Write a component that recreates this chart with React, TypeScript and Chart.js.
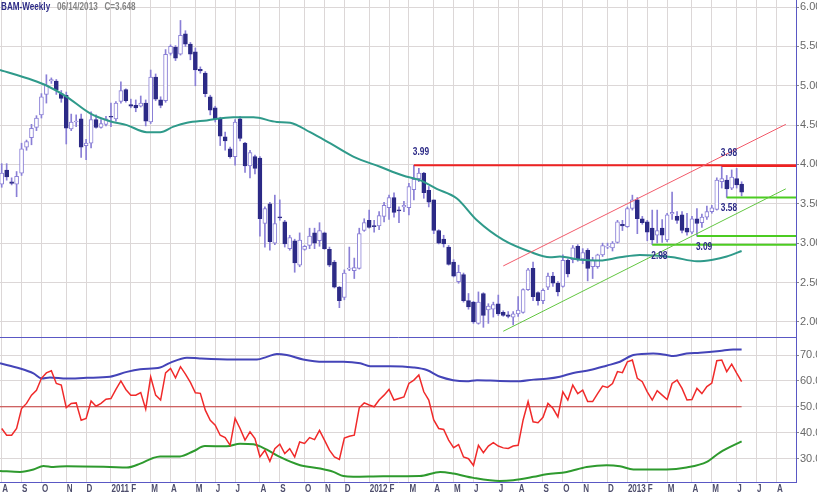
import React, { useEffect, useRef } from "react";
import { Chart, registerables } from "chart.js";

Chart.register(...registerables);

// ---------- DATA ----------
const titleSymbol = "BAM-Weekly";
const titleDate = "06/14/2013";
const lastCloseText = "3.648";

// weekly candles, index 0 = week of Aug 6 2010 ... index 149 = week of Jun 14 2013
const opens = [
  3.75, 3.93, 3.78, 3.75, 3.89, 4.22, 4.34, 4.47, 4.63, 4.89,
  5.06, 5.06, 4.90, 4.88, 4.45, 4.54, 4.58, 4.24, 4.27, 4.57,
  4.47, 4.51, 4.61, 4.58, 4.80, 4.95, 4.76, 4.75, 4.74, 4.78,
  4.54, 5.11, 4.82, 4.81, 5.41, 5.49, 5.40, 5.66, 5.53, 5.43,
  5.21, 5.16, 4.86, 4.72, 4.58, 4.35, 4.20, 4.10, 4.58, 4.27,
  3.98, 4.10, 4.08, 3.25, 3.50, 3.00, 3.33, 3.27, 2.93, 3.03,
  2.72, 2.92, 2.97, 3.13, 3.03, 3.13, 2.92, 2.76, 2.44, 2.31,
  2.67, 2.65, 2.68, 3.16, 3.29, 3.22, 3.22, 3.34, 3.45, 3.58,
  3.42, 3.46, 3.45, 3.68, 3.82, 3.89, 3.67, 3.55, 3.16, 3.05,
  2.95, 2.76, 2.51, 2.60, 2.27, 2.25, 1.98, 2.36, 2.15, 2.16,
  2.23, 2.12, 2.09, 2.06, 2.10, 2.12, 2.41, 2.68, 2.37, 2.27,
  2.44, 2.58, 2.49, 2.45, 2.78, 2.79, 2.96, 2.80, 2.91, 2.70,
  2.70, 2.85, 2.95, 2.94, 3.01, 3.24, 3.21, 3.44, 3.55, 3.31,
  3.27, 3.19, 3.10, 3.19, 3.04, 3.37, 3.34, 3.36, 3.19, 3.14,
  3.31, 3.26, 3.33, 3.40, 3.43, 3.78, 3.80, 3.70, 3.82, 3.75,
];
const highs = [
  4.01, 4.01, 3.83, 3.91, 4.27, 4.31, 4.51, 4.62, 4.90, 5.14,
  5.10, 5.08, 4.94, 4.92, 4.64, 4.63, 4.64, 4.32, 4.67, 4.63,
  4.57, 4.61, 4.78, 4.80, 5.05, 4.96, 4.83, 4.82, 4.87, 4.82,
  5.20, 5.15, 4.86, 5.46, 5.52, 5.51, 5.83, 5.70, 5.55, 5.48,
  5.24, 5.18, 4.88, 4.74, 4.60, 4.41, 4.22, 4.57, 4.61, 4.28,
  4.18, 4.12, 4.10, 3.46, 3.52, 3.61, 3.55, 3.29, 3.10, 3.05,
  3.13, 2.97, 3.19, 3.19, 3.26, 3.14, 2.95, 2.78, 2.45, 2.66,
  2.95, 2.81, 3.19, 3.31, 3.42, 3.29, 3.40, 3.52, 3.61, 3.64,
  3.46, 3.53, 3.76, 3.99, 3.95, 3.90, 3.72, 3.55, 3.17, 3.10,
  2.97, 2.79, 2.72, 2.62, 2.36, 2.26, 2.38, 2.37, 2.23, 2.25,
  2.34, 2.14, 2.13, 2.13, 2.32, 2.42, 2.68, 2.76, 2.38, 2.42,
  2.62, 2.63, 2.51, 2.85, 2.80, 2.97, 2.98, 2.93, 2.93, 2.82,
  2.86, 3.00, 3.00, 3.02, 3.29, 3.29, 3.46, 3.61, 3.58, 3.34,
  3.29, 3.42, 3.42, 3.30, 3.38, 3.65, 3.40, 3.40, 3.38, 3.34,
  3.44, 3.37, 3.47, 3.48, 3.83, 3.98, 3.86, 3.93, 3.95, 3.78,
];
const lows = [
  3.71, 3.80, 3.74, 3.59, 3.86, 4.18, 4.25, 4.43, 4.59, 4.78,
  5.03, 4.89, 4.79, 4.26, 4.43, 4.48, 4.09, 4.06, 4.21, 4.46,
  4.46, 4.49, 4.48, 4.55, 4.78, 4.79, 4.72, 4.67, 4.73, 4.49,
  4.52, 4.81, 4.72, 4.79, 5.39, 5.32, 5.39, 5.50, 5.33, 5.00,
  5.16, 4.86, 4.63, 4.54, 4.24, 4.18, 4.08, 3.99, 4.30, 3.90,
  3.83, 3.88, 3.09, 2.95, 2.91, 2.98, 3.29, 2.95, 2.91, 2.63,
  2.70, 2.91, 2.93, 2.93, 2.96, 2.92, 2.70, 2.43, 2.18, 2.28,
  2.65, 2.55, 2.67, 3.15, 3.19, 3.14, 3.17, 3.27, 3.30, 3.33,
  3.26, 3.40, 3.36, 3.55, 3.78, 3.57, 3.46, 3.12, 2.99, 2.95,
  2.72, 2.57, 2.49, 2.25, 2.16, 1.98, 1.97, 1.93, 1.98, 2.06,
  2.08, 2.07, 2.05, 1.96, 2.07, 2.11, 2.40, 2.27, 2.21, 2.23,
  2.41, 2.45, 2.33, 2.44, 2.57, 2.75, 2.77, 2.74, 2.52, 2.55,
  2.68, 2.83, 2.93, 2.90, 3.00, 3.16, 3.20, 3.42, 3.12, 3.24,
  3.03, 2.98, 3.00, 3.01, 3.02, 3.30, 3.25, 3.13, 3.10, 3.12,
  3.09, 3.20, 3.30, 3.38, 3.42, 3.70, 3.58, 3.68, 3.70, 3.60,
];
const closes = [
  3.89, 3.84, 3.76, 3.85, 4.20, 4.29, 4.46, 4.59, 4.86, 5.01,
  5.08, 4.95, 4.84, 4.46, 4.54, 4.55, 4.22, 4.27, 4.57, 4.47,
  4.52, 4.58, 4.60, 4.78, 4.94, 4.81, 4.74, 4.72, 4.78, 4.55,
  5.11, 4.83, 4.75, 5.40, 5.50, 5.35, 5.64, 5.53, 5.40, 5.20,
  5.19, 4.90, 4.69, 4.58, 4.36, 4.30, 4.10, 4.54, 4.33, 3.98,
  4.15, 3.95, 3.31, 3.44, 3.02, 3.25, 3.32, 2.99, 3.07, 2.75,
  3.04, 2.96, 3.09, 3.00, 3.16, 2.93, 2.72, 2.44, 2.27, 2.62,
  2.68, 2.69, 3.12, 3.26, 3.20, 3.21, 3.35, 3.48, 3.58, 3.39,
  3.41, 3.48, 3.72, 3.81, 3.89, 3.64, 3.52, 3.16, 3.00, 2.99,
  2.73, 2.58, 2.63, 2.27, 2.19, 2.00, 2.25, 2.08, 2.20, 2.22,
  2.10, 2.08, 2.07, 2.10, 2.15, 2.41, 2.66, 2.32, 2.27, 2.40,
  2.58, 2.49, 2.38, 2.78, 2.61, 2.94, 2.79, 2.88, 2.68, 2.78,
  2.85, 2.97, 2.96, 3.00, 3.27, 3.22, 3.44, 3.55, 3.31, 3.26,
  3.14, 3.04, 3.16, 3.10, 3.36, 3.39, 3.29, 3.16, 3.14, 3.31,
  3.25, 3.33, 3.40, 3.45, 3.80, 3.82, 3.69, 3.84, 3.74, 3.648,
];

// moving average (week index, price)
const maIdx = [-0.34, 6.3, 9.1, 13.1, 17.8, 21.8, 25.2, 29.2, 31.9, 34.6, 37.3, 41.3, 46.6, 50.7, 55.4, 58.1, 62.1, 66.1, 70.8, 76.2, 80.8, 84.2, 87.6, 91.6, 95.7, 101.0, 106.4, 110.4, 112.4, 116.5, 120.5, 124.5, 128.5, 135.2, 140.0, 143.2, 146.0, 149.0];
const maVal = [5.20, 5.07, 5.00, 4.86, 4.65, 4.55, 4.50, 4.41, 4.41, 4.48, 4.53, 4.56, 4.60, 4.60, 4.54, 4.53, 4.41, 4.27, 4.10, 3.97, 3.86, 3.80, 3.69, 3.57, 3.29, 3.04, 2.89, 2.82, 2.83, 2.79, 2.78, 2.82, 2.85, 2.82, 2.77, 2.79, 2.83, 2.90];

// lower panel oscillator
const oscValues = [
  41.6, 39.0, 39.0, 41.6, 49.3, 51.3, 54.5, 56.4, 61.0, 63.1,
  63.9, 59.0, 58.4, 49.7, 51.3, 51.5, 44.8, 45.5, 52.2, 50.2,
  51.3, 52.9, 53.2, 56.7, 60.0, 56.7, 54.5, 54.5, 55.5, 49.1,
  61.6, 54.5, 52.6, 63.1, 64.8, 61.2, 65.5, 62.6, 59.4, 55.4,
  55.2, 48.7, 44.8, 42.9, 39.0, 38.1, 35.1, 45.5, 41.6, 37.1,
  40.3, 37.7, 30.6, 33.2, 28.9, 33.8, 35.5, 31.9, 33.8, 30.6,
  36.4, 35.8, 38.1, 37.3, 40.9, 37.1, 33.2, 30.6, 29.6, 37.9,
  38.6, 39.0, 49.6, 51.5, 50.7, 50.0, 52.6, 54.5, 56.7, 52.6,
  53.2, 53.8, 59.0, 60.3, 62.3, 55.8, 52.6, 44.9, 41.6, 41.2,
  37.1, 34.2, 35.4, 30.6, 29.9, 27.3, 35.1, 32.2, 34.8, 36.1,
  34.8, 34.1, 33.9, 34.8, 35.1, 44.9, 52.0, 44.2, 43.8, 45.9,
  51.3, 49.4, 46.1, 55.8, 52.6, 58.4, 55.1, 56.4, 52.0, 52.0,
  55.1, 58.0, 57.5, 59.0, 63.6, 63.2, 67.4, 68.1, 61.0, 59.7,
  55.8, 52.6, 56.2, 54.5, 52.8, 59.0, 60.3, 57.1, 52.6, 52.8,
  57.1, 55.1, 57.8, 59.2, 67.8, 68.1, 63.6, 66.5, 63.0, 59.7,
];
const upperIdx = [-0.34, 3.7, 6.4, 8.1, 9.7, 13.1, 17.1, 21.8, 25.2, 27.9, 31.9, 33.9, 37.3, 39.9, 46.6, 51.4, 53.4, 55.4, 57.4, 60.7, 64.8, 68.8, 72.2, 74.2, 78.2, 82.9, 85.6, 88.3, 90.9, 93.6, 95.7, 100.3, 104.4, 107.1, 109.7, 112.4, 115.1, 118.5, 121.8, 124.5, 127.2, 131.2, 133.9, 135.2, 137.9, 140.6, 144.6, 147.3, 149.0];
const upperVal = [66.8, 64.8, 62.9, 60.9, 61.3, 60.9, 61.2, 61.6, 63.5, 64.5, 65.2, 67.0, 69.0, 68.7, 68.3, 68.3, 69.3, 70.4, 70.0, 68.3, 67.4, 67.4, 66.8, 65.7, 65.7, 65.2, 64.2, 61.6, 60.3, 59.9, 60.3, 60.0, 59.9, 60.5, 60.8, 61.6, 63.1, 64.2, 65.9, 67.4, 70.0, 70.6, 70.0, 69.6, 70.6, 70.9, 71.6, 72.2, 72.2];
const lowerIdx = [-0.34, 3.7, 6.4, 8.4, 10.4, 13.1, 21.8, 25.2, 27.9, 30.5, 31.9, 35.9, 38.6, 40.9, 45.3, 48.0, 50.7, 53.4, 56.0, 60.1, 64.1, 66.8, 68.8, 70.8, 76.8, 84.2, 88.3, 90.9, 95.0, 100.3, 103.0, 107.1, 109.7, 113.8, 117.8, 121.8, 124.5, 127.2, 133.9, 137.9, 142.0, 144.6, 149.0];
const lowerVal = [25.2, 24.8, 25.7, 27.1, 26.7, 27.0, 26.7, 26.5, 28.0, 30.2, 30.8, 30.8, 32.8, 34.8, 34.7, 35.7, 35.5, 33.4, 30.6, 27.4, 26.1, 24.8, 23.2, 22.9, 23.1, 23.2, 24.8, 24.2, 22.5, 21.3, 21.6, 22.9, 23.9, 24.8, 26.7, 27.4, 27.0, 25.7, 25.7, 26.5, 28.7, 32.3, 36.6];
const midLevel = 50;

// month grid: first weekly bar of each month, with its label
const monthIdx = [0, 4, 8, 13, 17, 22, 26, 30, 34, 39, 43, 47, 52, 56, 61, 65, 69, 74, 78, 82, 87, 91, 95, 100, 104, 109, 113, 117, 122, 126, 130, 134, 139, 143, 148, 152, 156];
const monthLabels = ["A", "S", "O", "N", "D", "2011", "F", "M", "A", "M", "J", "J", "A", "S", "O", "N", "D", "2012", "F", "M", "A", "M", "J", "J", "A", "S", "O", "N", "D", "2013", "F", "M", "A", "M", "J", "J", "A"];
const priceTicks = [2.0, 2.5, 3.0, 3.5, 4.0, 4.5, 5.0, 5.5, 6.0];
const oscTicks = [30, 40, 50, 60, 70];

// annotated levels
const levelValues = [3.99, 3.98, 3.58, 3.09, 2.98];
const levelStart = [83, 145, 146, 140, 131];
const levelLabelIdx = [83, 145, 145, 140, 131];
const levelKinds = ["high", "high", "low", "low", "low"];

// trend channel (week index, price)
const channelIdx = [101.0, 157.9];
const channelUpper = [2.71, 4.51];
const channelLower = [1.88, 3.69];

// ---------- STYLE ----------
const X_MIN = -0.342;
const X_MAX = 159.95;
const NAVY = "#2c2a86";
const LAV = "#8a7fd6";
const GRID = "#dcd7d7";
const FRAME = "#5a58c4";
const FONT = "Arial, 'Liberation Sans', sans-serif";
const CONDENSE = 0.73;

function xScale(bottomAxis: boolean) {
  return {
    type: "linear",
    min: X_MIN,
    max: X_MAX,
    offset: false,
    afterBuildTicks: (s: any) => {
      s.ticks = monthIdx.map((v) => ({ value: v }));
    },
    ticks: { display: false },
    grid: { color: GRID, drawTicks: false, offset: false, lineWidth: 1 },
    border: { display: true, color: FRAME, width: 1 },
    afterFit: (s: any) => {
      s.paddingLeft = 0;
      s.paddingRight = 0;
      s.height = bottomAxis ? 13 : 1;
    },
  };
}

function yScale(min: number, max: number, ticks: number[]) {
  return {
    type: "linear",
    position: "right",
    min,
    max,
    afterBuildTicks: (s: any) => {
      s.ticks = ticks.map((v) => ({ value: v }));
    },
    ticks: {
      color: "#6a6a6a",
      font: { family: FONT, size: 11 },
      padding: 1,
      callback: (v: any) => Number(v).toFixed(2),
    },
    grid: { color: GRID, tickColor: "#888888", tickLength: 3, drawTicks: true },
    border: { display: true, color: FRAME, width: 1 },
    afterFit: (s: any) => {
      s.width = 21;
      s.paddingTop = 0;
      s.paddingBottom = 0;
    },
  };
}

// month labels of the shared time axis, placed at the x-scale's month ticks
const monthLabelPlugin = {
  id: "monthLabels",
  afterDraw(chart: any) {
    const { ctx, chartArea } = chart;
    const xs = chart.scales.x;
    ctx.save();
    ctx.font = `bold 11px ${FONT}`;
    ctx.fillStyle = "#4e4e6c";
    ctx.textAlign = "left";
    ctx.textBaseline = "alphabetic";
    xs.ticks.forEach((t: any, k: number) => {
      const px = xs.getPixelForValue(t.value);
      if (px > chartArea.right - 2) return;
      ctx.save();
      ctx.translate(px + 0.5, chartArea.bottom + 10);
      ctx.scale(CONDENSE, 1);
      ctx.fillText(monthLabels[k], 0, 0);
      ctx.restore();
    });
    ctx.restore();
  },
};

const levelLabelPlugin = {
  id: "levelLabels",
  afterDatasetsDraw(chart: any) {
    const { ctx } = chart;
    const xs = chart.scales.x;
    const ys = chart.scales.y;
    ctx.save();
    ctx.font = `bold 11px ${FONT}`;
    ctx.fillStyle = NAVY;
    ctx.textAlign = "left";
    ctx.textBaseline = "alphabetic";
    levelValues.forEach((v, k) => {
      const px = xs.getPixelForValue(levelLabelIdx[k]);
      const py = ys.getPixelForValue(v);
      const dy = levelKinds[k] === "high" ? -10 : 14;
      ctx.save();
      ctx.translate(px - 1, py + dy);
      ctx.scale(0.76, 1);
      ctx.fillText(v.toFixed(2), 0, 0);
      ctx.restore();
    });
    ctx.restore();
  },
};

export default function App() {
  const topRef = useRef<HTMLCanvasElement>(null);
  const botRef = useRef<HTMLCanvasElement>(null);

  useEffect(() => {
    const rising = closes.map((c, i) => c >= opens[i]);

    const levelSets = levelValues.map((v, k) => ({
      type: "line",
      data: [
        { x: levelStart[k], y: v },
        { x: X_MAX, y: v },
      ],
      borderColor: levelKinds[k] === "high" ? "#ee2222" : "#4ccc22",
      borderWidth: 2,
      pointRadius: 0,
      order: 0,
    }));

    const top = new Chart(topRef.current as HTMLCanvasElement, {
      type: "bar",
      data: {
        datasets: [
          {
            type: "bar",
            data: opens.map((o, i) => ({ x: i, y: [o, closes[i]] })),
            backgroundColor: rising.map((r) => (r ? "#ffffff" : NAVY)),
            borderColor: rising.map((r) => (r ? LAV : NAVY)),
            borderWidth: 1,
            borderSkipped: false,
            barThickness: 4,
            minBarLength: 1,
            grouped: false,
            order: 2,
          },
          {
            type: "bar",
            data: lows.map((l, i) => ({ x: i, y: [l, highs[i]] })),
            backgroundColor: LAV,
            borderWidth: 0,
            barThickness: 1,
            grouped: false,
            order: 3,
          },
          {
            type: "line",
            data: maIdx.map((x, k) => ({ x, y: maVal[k] })),
            borderColor: "#2f9a8a",
            borderWidth: 2,
            pointRadius: 0,
            cubicInterpolationMode: "monotone",
            order: 1,
          },
          {
            type: "line",
            data: channelIdx.map((x, k) => ({ x, y: channelUpper[k] })),
            borderColor: "#f25a6a",
            borderWidth: 1,
            pointRadius: 0,
            order: 0,
          },
          {
            type: "line",
            data: channelIdx.map((x, k) => ({ x, y: channelLower[k] })),
            borderColor: "#62c640",
            borderWidth: 1,
            pointRadius: 0,
            order: 0,
          },
          ...levelSets,
        ] as any,
      },
      options: {
        responsive: false,
        animation: false,
        events: [],
        layout: { padding: 0 },
        plugins: { legend: { display: false }, tooltip: { enabled: false } },
        scales: {
          x: xScale(false) as any,
          y: yScale(1.807, 6.09, priceTicks) as any,
        },
      },
      plugins: [levelLabelPlugin],
    });

    const bot = new Chart(botRef.current as HTMLCanvasElement, {
      type: "line",
      data: {
        datasets: [
          {
            data: oscValues.map((v, i) => ({ x: i, y: v })),
            borderColor: "#f02a2a",
            borderWidth: 1.5,
            pointRadius: 0,
            tension: 0,
          },
          {
            data: upperIdx.map((x, k) => ({ x, y: upperVal[k] })),
            borderColor: "#4444b8",
            borderWidth: 2,
            pointRadius: 0,
            cubicInterpolationMode: "monotone",
          },
          {
            data: lowerIdx.map((x, k) => ({ x, y: lowerVal[k] })),
            borderColor: "#2e9a2e",
            borderWidth: 2,
            pointRadius: 0,
            cubicInterpolationMode: "monotone",
          },
          {
            data: [
              { x: X_MIN, y: midLevel },
              { x: opens.length - 1, y: midLevel },
            ],
            borderColor: "#c83a3a",
            borderWidth: 1,
            pointRadius: 0,
          },
        ] as any,
      },
      options: {
        responsive: false,
        animation: false,
        events: [],
        layout: { padding: 0 },
        plugins: { legend: { display: false }, tooltip: { enabled: false } },
        scales: {
          x: xScale(true) as any,
          y: yScale(20.9, 76.6, oscTicks) as any,
        },
      },
      plugins: [monthLabelPlugin],
    });

    return () => {
      top.destroy();
      bot.destroy();
    };
  }, []);

  return (
    <div
      style={{
        position: "absolute",
        left: 0,
        top: 0,
        width: 817,
        height: 495,
        overflow: "hidden",
        background: "#ffffff",
      }}
    >
      <canvas ref={topRef} width={817} height={338} style={{ position: "absolute", left: 0, top: 0 }} />
      <canvas ref={botRef} width={817} height={157} style={{ position: "absolute", left: 0, top: 338 }} />
      <div
        style={{
          position: "absolute",
          left: 1,
          top: 0,
          font: `bold 11px ${FONT}`,
          whiteSpace: "pre",
          lineHeight: "13px",
          transform: "scaleX(0.74)",
          transformOrigin: "0 0",
        }}
      >
        <span style={{ color: NAVY }}>{titleSymbol}</span>
        <span style={{ color: "#858585" }}>{`   ${titleDate}   C=${lastCloseText}`}</span>
      </div>
    </div>
  );
}
